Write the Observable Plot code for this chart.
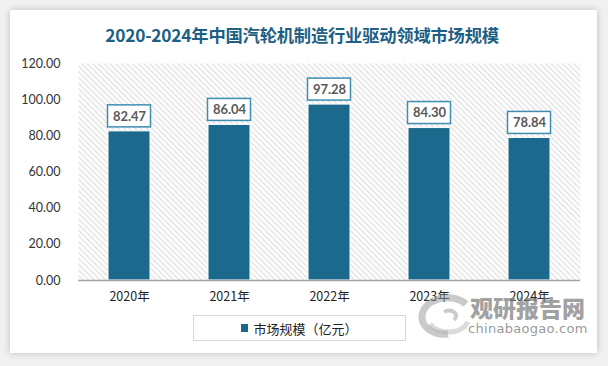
<!DOCTYPE html>
<html>
<head>
<meta charset="utf-8">
<script src="https://cdn.jsdelivr.net/npm/d3@7"></script>
<script src="https://cdn.jsdelivr.net/npm/@observablehq/plot@0.6"></script>
<style>
  html, body { margin: 0; padding: 0; background: #f1f1f1; }
  #wrap { position: relative; width: 608px; height: 366px; overflow: hidden; background: #f1f1f1; }
  #card { position: absolute; left: 10px; top: 10px; width: 587px; height: 343px; background: #fff;
          box-shadow: 0 0 7px rgba(0,0,0,0.22); }
  #title { position: absolute; left: 0; width: 604px; top: 22px; text-align: center;
           font-family: "Noto Sans CJK SC", sans-serif; font-weight: 700; font-size: 17.3px; color: #1d5f85; letter-spacing: -0.2px; }
  #chart { position: absolute; left: 0; top: 0; }
  #legend { position: absolute; left: 193px; top: 315px; width: 213px; height: 26px; border: 1px solid #d9d9d9;
            box-sizing: border-box; background: #fff; display: flex; align-items: center; justify-content: center;
            font-family: "Noto Sans CJK SC", sans-serif; font-size: 13px; color: #222; }
  #legend .sw { display: inline-block; width: 7px; height: 8px; background: #1b6a8d; margin-right: 5px; }
  #wm { position: absolute; left: 412px; top: 290px; width: 180px; height: 48px; pointer-events: none; }
  #wm .cn { position: absolute; left: 58px; top: 6px; line-height: 1; font-family: "Noto Sans CJK SC", sans-serif; font-weight: 900;
            font-size: 23px; color: rgba(125,125,125,0.72); white-space: nowrap; letter-spacing: 0px; }
  #wm .en { position: absolute; left: 56px; top: 32px; line-height: 1; font-family: "DejaVu Sans", sans-serif;
            font-size: 13px; color: rgba(125,125,125,0.8); white-space: nowrap; letter-spacing: 0.3px; }
</style>
</head>
<body>
<div id="wrap">
  <div id="card"></div>
  <div id="title">2020-2024年中国汽轮机制造行业驱动领域市场规模</div>
  <div id="chart"></div>
  <div id="legend"><span class="sw"></span>市场规模（亿元）</div>
  <div id="wm">
    <svg width="58" height="46" style="position:absolute;left:4px;top:4px">
      <path d="M50 10 C 36 -2, 8 4, 6 22 C 5 34, 20 42, 32 40" fill="none" stroke="rgba(150,150,150,0.5)" stroke-width="7"/>
      <path d="M14 30 C 22 40, 44 42, 52 28" fill="none" stroke="rgba(175,175,175,0.45)" stroke-width="5"/>
      <path d="M28 18 C 36 14, 44 20, 38 26" fill="none" stroke="rgba(140,140,140,0.45)" stroke-width="4"/>
    </svg>
    <div class="cn">观研报告网</div>
    <div class="en">chinabaogao.com</div>
  </div>
</div>
<script>
const years = ["2020年", "2021年", "2022年", "2023年", "2024年"];
const values = [82.47, 86.04, 97.28, 84.30, 78.84];
const yTicks = [0, 20, 40, 60, 80, 100, 120];

const data = years.map((y, i) => ({year: y, value: values[i]}));
const barColor = "#1b6a8d";

const plot = Plot.plot({
  width: 608,
  height: 366,
  marginTop: 63,
  marginBottom: 86,
  marginLeft: 78,
  marginRight: 28,
  style: {background: "transparent", fontFamily: "Lato, 'Open Sans', sans-serif", fontSize: "12px", color: "#333"},
  x: {domain: years, paddingInner: 0.58, paddingOuter: 0.29, label: null},
  y: {domain: [0, 120], ticks: yTicks, label: null},
  marks: [
    () => {
      const ns = "http://www.w3.org/2000/svg";
      const g = document.createElementNS(ns, "g");
      const defs = document.createElementNS(ns, "defs");
      const pat = document.createElementNS(ns, "pattern");
      pat.setAttribute("id", "hatch");
      pat.setAttribute("width", "4");
      pat.setAttribute("height", "4");
      pat.setAttribute("patternUnits", "userSpaceOnUse");
      pat.setAttribute("patternTransform", "rotate(-45)");
      const bg = document.createElementNS(ns, "rect");
      bg.setAttribute("width", "4"); bg.setAttribute("height", "4"); bg.setAttribute("fill", "#ffffff");
      const ln = document.createElementNS(ns, "rect");
      ln.setAttribute("width", "1.4"); ln.setAttribute("height", "4"); ln.setAttribute("fill", "#e2e2e2");
      pat.appendChild(bg); pat.appendChild(ln);
      defs.appendChild(pat);
      g.appendChild(defs);
      return g;
    },
    Plot.frame({fill: "url(#hatch)", stroke: "none"}),
    Plot.axisY({ticks: yTicks, tickFormat: d => d.toFixed(2), tickSize: 0, tickPadding: 18,
                fontSize: 12.5, fill: "#333"}),
    Plot.axisX({tickSize: 0, tickPadding: 12, fontSize: 12.5, fontFamily: "'Noto Sans CJK SC', sans-serif", fill: "#222"}),
    Plot.barY(data, {x: "year", y: "value", fill: barColor, stroke: "#ffffff", strokeWidth: 1}),
    Plot.barY(data, {x: "year", y1: "value", y2: "value", insetTop: -26, insetBottom: 4,
                     insetLeft: -0.5, insetRight: -0.5, fill: "#ffffff", stroke: "#3f8db0", strokeWidth: 1.5}),
    Plot.text(data, {x: "year", y: "value", text: d => d.value.toFixed(2), dy: -15,
                     fontSize: 13, fontWeight: "bold", fill: "#595959"}),
    Plot.ruleY([0], {stroke: "#a6a6a6", strokeWidth: 1.5})
  ]
});
document.getElementById("chart").appendChild(plot);
</script>
</body>
</html>
